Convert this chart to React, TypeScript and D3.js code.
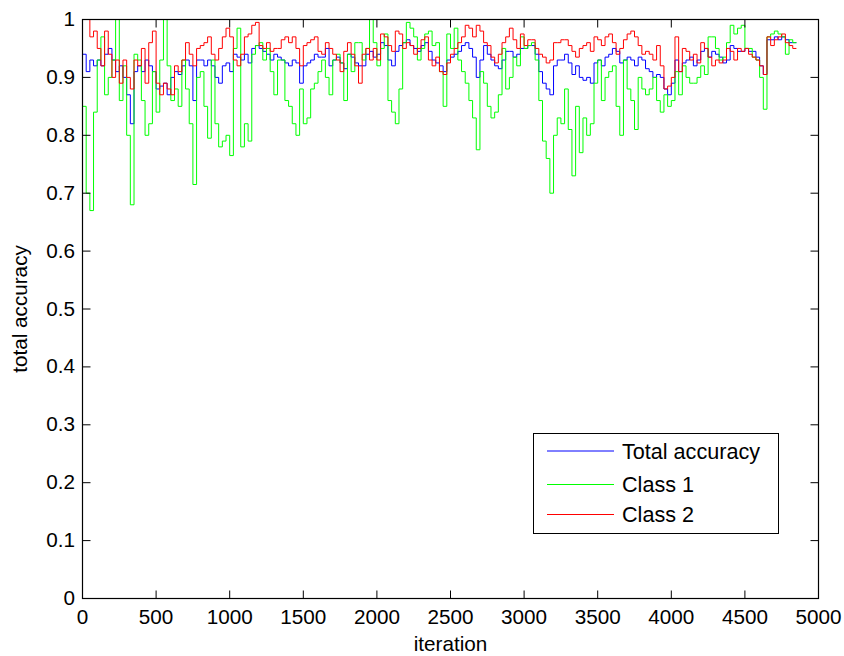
import React from 'react';
import * as d3 from 'd3';

// iteration spacing between consecutive samples
const STEP = 25;

// Total accuracy (blue), samples every 25 iterations from 0 to 4850
const totalAccuracy = [
  0.95, 0.94, 0.91, 0.93, 0.92, 0.93, 0.92, 0.94, 0.95, 0.93,
  0.91, 0.92, 0.90, 0.87, 0.82, 0.91, 0.92, 0.91, 0.93, 0.92,
  0.91, 0.88, 0.885, 0.89, 0.87, 0.90, 0.91, 0.905, 0.92, 0.93,
  0.92, 0.86, 0.93, 0.93, 0.92, 0.93, 0.92, 0.90, 0.89, 0.92,
  0.925, 0.91, 0.94, 0.935, 0.93, 0.94, 0.925, 0.95, 0.955, 0.95,
  0.945, 0.94, 0.93, 0.94, 0.935, 0.93, 0.925, 0.92, 0.93, 0.925,
  0.89, 0.92, 0.925, 0.93, 0.94, 0.935, 0.935, 0.95, 0.92, 0.93,
  0.935, 0.925, 0.915, 0.94, 0.935, 0.925, 0.92, 0.92, 0.94, 0.945,
  0.935, 0.94, 0.96, 0.955, 0.93, 0.92, 0.945, 0.955, 0.96, 0.965,
  0.955, 0.95, 0.945, 0.955, 0.96, 0.945, 0.93, 0.925, 0.92, 0.91,
  0.93, 0.935, 0.94, 0.945, 0.955, 0.96, 0.95, 0.935, 0.90, 0.93,
  0.955, 0.94, 0.93, 0.92, 0.915, 0.93, 0.945, 0.945, 0.935, 0.94,
  0.95, 0.95, 0.955, 0.955, 0.94, 0.91, 0.89, 0.88, 0.87, 0.92,
  0.93, 0.93, 0.94, 0.925, 0.905, 0.92, 0.90, 0.895, 0.90, 0.89,
  0.925, 0.93, 0.92, 0.935, 0.94, 0.95, 0.945, 0.925, 0.93, 0.935,
  0.93, 0.92, 0.935, 0.93, 0.915, 0.91, 0.90, 0.905, 0.90, 0.88,
  0.87, 0.89, 0.93, 0.91, 0.925, 0.93, 0.935, 0.92, 0.93, 0.945,
  0.95, 0.935, 0.945, 0.94, 0.935, 0.925, 0.93, 0.955, 0.95, 0.945,
  0.945, 0.95, 0.945, 0.945, 0.935, 0.92, 0.905, 0.965, 0.965, 0.97,
  0.965, 0.97, 0.965, 0.96, 0.96,
];

// Class 1 (green)
const class1 = [
  0.0, 0.85, 0.70, 0.67, 0.84, 0.93, 0.97, 0.87, 0.90, 0.93,
  1.0, 0.86, 0.92, 0.80, 0.68, 0.94, 0.93, 0.86, 0.80, 0.82,
  0.91, 0.84, 0.93, 1.0, 0.92, 0.86, 0.88, 0.85, 0.93, 0.88,
  0.82, 0.715, 0.90, 0.91, 0.85, 0.795, 0.93, 0.82, 0.78, 0.79,
  0.80, 0.765, 0.95, 0.985, 0.78, 0.82, 0.79, 0.94, 0.955, 0.96,
  0.93, 0.95, 0.91, 0.87, 0.93, 0.93, 0.86, 0.85, 0.82, 0.80,
  0.88, 0.82, 0.83, 0.88, 0.89, 0.91, 0.93, 0.90, 0.87, 0.93,
  0.94, 0.925, 0.86, 0.94, 0.91, 0.96, 0.96, 0.93, 0.95, 1.0,
  0.96, 0.92, 0.95, 0.975, 0.86, 0.84, 0.82, 0.88, 0.96, 0.995,
  0.985, 0.97, 0.93, 0.95, 0.975, 0.98, 0.955, 0.96, 0.91, 0.85,
  0.975, 0.95, 0.985, 0.93, 0.91, 0.89, 0.86, 0.83, 0.775, 0.91,
  0.89, 0.85, 0.83, 0.84, 0.87, 0.95, 0.88, 0.90, 0.935, 0.92,
  0.97, 0.95, 0.955, 0.96, 0.93, 0.86, 0.79, 0.76, 0.70, 0.80,
  0.83, 0.82, 0.88, 0.81, 0.73, 0.85, 0.77, 0.83, 0.80, 0.82,
  0.89, 0.93, 0.86, 0.90, 0.91, 0.92, 0.85, 0.80, 0.93, 0.88,
  0.86, 0.81, 0.90, 0.88, 0.87, 0.88, 0.90, 0.86, 0.84, 0.87,
  0.85, 0.86, 0.91, 0.87, 0.92, 0.90, 0.89, 0.89, 0.90, 0.92,
  0.905, 0.97, 0.97, 0.95, 0.93, 0.935, 0.96, 0.99, 0.975, 0.985,
  0.99, 0.95, 0.95, 0.935, 0.93, 0.90, 0.845, 0.97, 0.975, 0.98,
  0.975, 0.97, 0.94, 0.965, 0.96,
];

// Class 2 (red)
const class2 = [
  0.6, 1.0, 1.0, 0.97, 0.98, 0.95, 0.92, 0.98, 0.94, 0.90,
  0.93, 0.89, 0.93, 0.90, 0.88, 0.93, 0.92, 0.95, 0.89, 0.96,
  0.98, 0.89, 0.87, 0.89, 0.88, 0.87, 0.92, 0.91, 0.93, 0.96,
  0.94, 0.92, 0.95, 0.955, 0.96, 0.97, 0.94, 0.93, 0.95, 0.97,
  0.985, 0.97, 0.93, 0.92, 0.94, 0.97, 0.975, 0.99, 0.995, 0.955,
  0.95, 0.96, 0.945, 0.95, 0.95, 0.965, 0.97, 0.96, 0.97, 0.95,
  0.92, 0.955, 0.96, 0.965, 0.97, 0.945, 0.94, 0.96, 0.95, 0.94,
  0.93, 0.91, 0.945, 0.96, 0.94, 0.92, 0.89, 0.94, 0.95, 0.93,
  0.95, 0.93, 0.975, 0.97, 0.955, 0.945, 0.98, 0.975, 0.95, 0.96,
  0.955, 0.94, 0.95, 0.965, 0.97, 0.93, 0.92, 0.935, 0.91, 0.905,
  0.925, 0.94, 0.95, 0.96, 0.97, 0.99, 0.985, 0.97, 0.99, 0.98,
  0.96, 0.955, 0.935, 0.925, 0.94, 0.96, 0.97, 0.985, 0.965, 0.95,
  0.975, 0.955, 0.965, 0.965, 0.95, 0.94, 0.935, 0.925, 0.93, 0.96,
  0.96, 0.965, 0.965, 0.955, 0.945, 0.935, 0.95, 0.955, 0.96, 0.945,
  0.97, 0.965, 0.955, 0.97, 0.975, 0.96, 0.94, 0.95, 0.965, 0.975,
  0.98, 0.97, 0.955, 0.94, 0.945, 0.94, 0.93, 0.955, 0.92, 0.88,
  0.885, 0.90, 0.97, 0.91, 0.95, 0.945, 0.93, 0.94, 0.925, 0.96,
  0.95, 0.935, 0.92, 0.93, 0.925, 0.93, 0.95, 0.945, 0.93, 0.95,
  0.945, 0.95, 0.94, 0.935, 0.93, 0.92, 0.905, 0.97, 0.955, 0.965,
  0.97, 0.975, 0.96, 0.955, 0.95,
];

const xTicks = [0, 500, 1000, 1500, 2000, 2500, 3000, 3500, 4000, 4500, 5000];
const yTicks = [0, 0.1, 0.2, 0.3, 0.4, 0.5, 0.6, 0.7, 0.8, 0.9, 1];
const yTickLabels = ['0', '0.1', '0.2', '0.3', '0.4', '0.5', '0.6', '0.7', '0.8', '0.9', '1'];
const seriesNames = ['Total accuracy', 'Class 1', 'Class 2'];
const seriesColors = ['#0000ff', '#00ff00', '#ff0000'];
const seriesData = [totalAccuracy, class1, class2];

const FONT = '"Liberation Sans", Arial, Helvetica, sans-serif';

export default function App() {
  const W = 844;
  const H = 656;
  const left = 82.5, right = 818.5, top = 19.5, bottom = 598.5;
  const x = d3.scaleLinear().domain([0, 5000]).range([left, right]);
  const y = d3.scaleLinear().domain([0, 1]).range([bottom, top]);
  const line = d3
    .line<number>()
    .x((_, i) => x(i * STEP))
    .y((d) => y(d))
    .curve(d3.curveStepBefore);
  const tickLen = 8;
  const fs = 20.7;
  const legendFs = 21.6;

  const legend = { x0: 533.5, y0: 433.5, x1: 778.5, y1: 533.5 };
  const rowY = [451, 484.5, 514.5];

  return (
    <svg
      width={W}
      height={H}
      style={{ position: 'absolute', left: 0, top: 0, background: '#fff' }}
      fontFamily={FONT}
    >
      <rect x={0} y={0} width={W} height={H} fill="#fff" />
      <defs>
        <clipPath id="plotclip">
          <rect x={left - 1} y={top - 1} width={right - left + 2} height={bottom - top + 2} />
        </clipPath>
      </defs>
      <g clipPath="url(#plotclip)">
        {seriesData.map((s, k) => (
          <path key={k} d={line(s) || ''} fill="none" stroke={seriesColors[k]} strokeWidth={1} />
        ))}
      </g>
      {/* axes box */}
      <rect x={left} y={top} width={right - left} height={bottom - top} fill="none" stroke="#000" strokeWidth={1.2} />
      {/* x ticks */}
      {xTicks.map((t) => (
        <g key={'x' + t}>
          <line x1={x(t)} x2={x(t)} y1={bottom} y2={bottom - tickLen} stroke="#000" />
          <line x1={x(t)} x2={x(t)} y1={top} y2={top + tickLen} stroke="#000" />
          <text x={x(t)} y={624} textAnchor="middle" fontSize={fs} fill="#000">
            {t}
          </text>
        </g>
      ))}
      {/* y ticks */}
      {yTicks.map((t, i) => (
        <g key={'y' + t}>
          <line x1={left} x2={left + tickLen} y1={y(t)} y2={y(t)} stroke="#000" />
          <line x1={right} x2={right - tickLen} y1={y(t)} y2={y(t)} stroke="#000" />
          <text x={75} y={y(t) + 6.5} textAnchor="end" fontSize={fs} fill="#000">
            {yTickLabels[i]}
          </text>
        </g>
      ))}
      <text x={(left + right) / 2} y={651} textAnchor="middle" fontSize={fs} fill="#000">
        iteration
      </text>
      <text
        transform={`translate(27,${(top + bottom) / 2}) rotate(-90)`}
        textAnchor="middle"
        fontSize={fs}
        fill="#000"
      >
        total accuracy
      </text>
      {/* legend */}
      <rect
        x={legend.x0}
        y={legend.y0}
        width={legend.x1 - legend.x0}
        height={legend.y1 - legend.y0}
        fill="#fff"
        stroke="#000"
        strokeWidth={1}
      />
      {seriesNames.map((n, k) => (
        <g key={n}>
          <line x1={547} x2={614} y1={rowY[k]} y2={rowY[k]} stroke={seriesColors[k]} strokeWidth={1} />
          <text x={622} y={rowY[k] + 7.5} fontSize={legendFs} fill="#000">
            {n}
          </text>
        </g>
      ))}
    </svg>
  );
}
